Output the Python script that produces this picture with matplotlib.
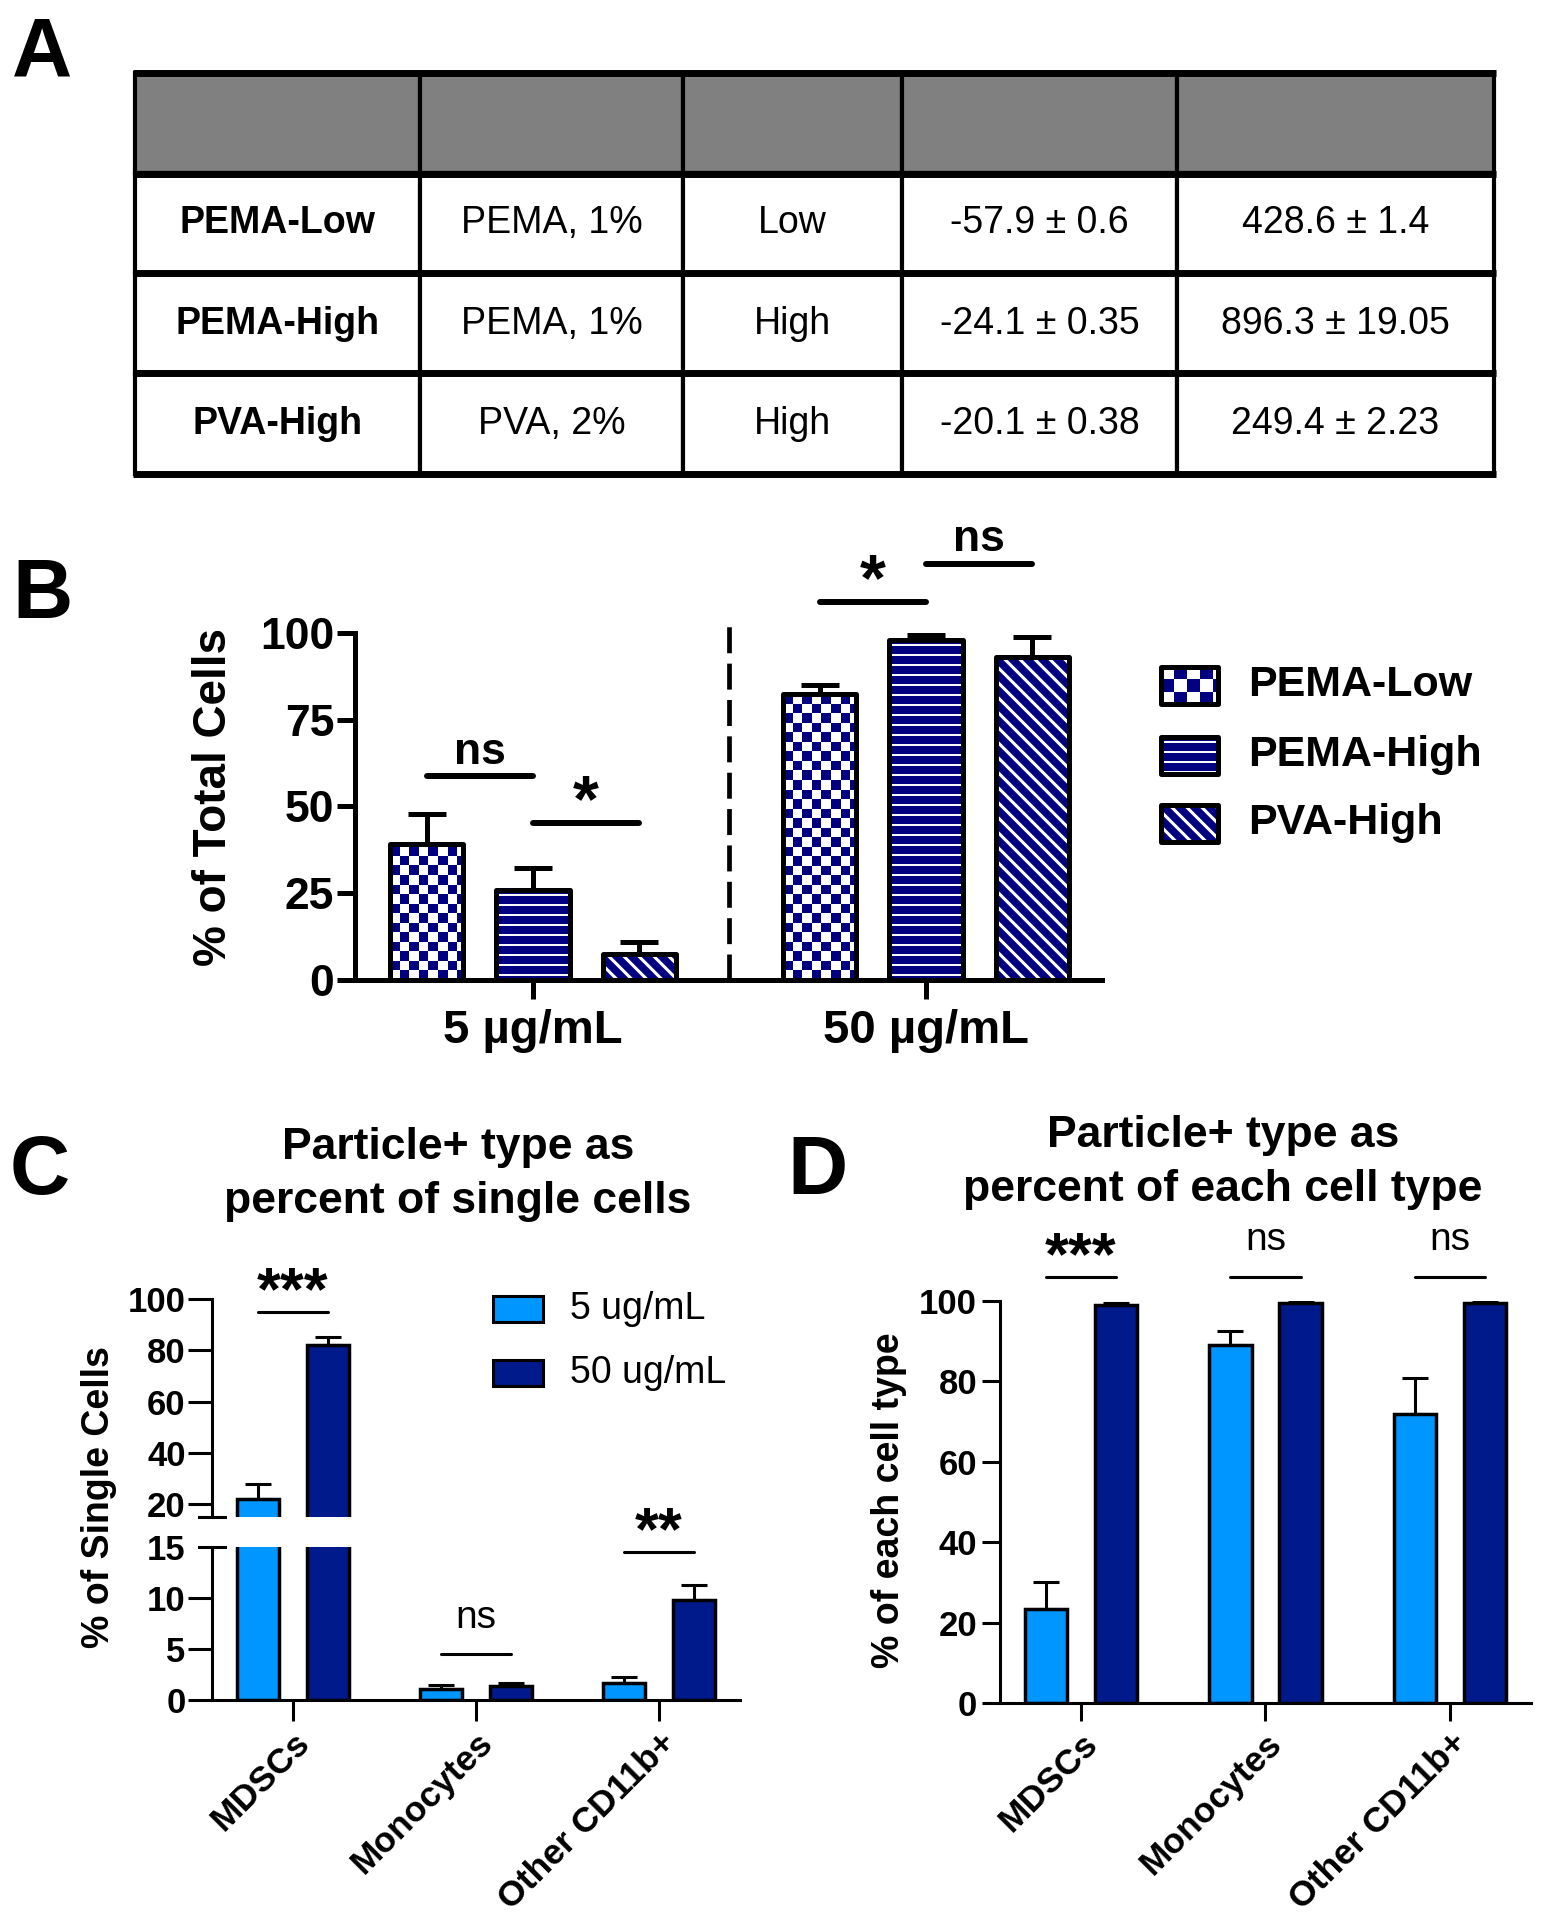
import numpy as np
import matplotlib
matplotlib.use("Agg")
import matplotlib.pyplot as plt
from matplotlib.colors import ListedColormap
from matplotlib.patches import Rectangle
from matplotlib.collections import LineCollection
from matplotlib.transforms import IdentityTransform

plt.rcParams['font.family'] = ['Liberation Sans', 'DejaVu Sans']

W, H = 1541, 1920

# ---------- panel A: particle table
row_names = ['PEMA-Low', 'PEMA-High', 'PVA-High']
polymer = ['PEMA, 1%', 'PEMA, 1%', 'PVA, 2%']
mol_weight = ['Low', 'High', 'High']
zeta = ['-57.9 ± 0.6', '-24.1 ± 0.35', '-20.1 ± 0.38']
size_nm = ['428.6 ± 1.4', '896.3 ± 19.05', '249.4 ± 2.23']

# ---------- panel B: % of total cells
doses = ['5 µg/mL', '50 µg/mL']
particles = ['PEMA-Low', 'PEMA-High', 'PVA-High']
pema_low = [39.3, 82.5]
pema_low_err = [8.5, 2.5]
pema_high = [26.0, 98.0]
pema_high_err = [6.4, 1.4]
pva_high = [7.4, 93.0]
pva_high_err = [3.6, 5.8]
# (dose index, bar i, bar j, line height, label)
sig_b = [(0, 0, 1, 58.7, 'ns'), (0, 1, 2, 45.3, '*'),
         (1, 0, 1, 109.0, '*'), (1, 1, 2, 120.0, 'ns')]

# ---------- panel C / D
cell_types = ['MDSCs', 'Monocytes', 'Other CD11b+']
conc_labels = ['5 ug/mL', '50 ug/mL']
single_5 = [22.0, 1.1, 1.7]
single_5_err = [6.0, 0.4, 0.6]
single_50 = [82.0, 1.4, 9.8]
single_50_err = [3.0, 0.3, 1.5]
sig_c = [(0, 95.0, '***'), (1, 4.5, 'ns'), (2, 14.5, '**')]

each_5 = [23.3, 89.0, 71.8]
each_5_err = [6.7, 3.6, 9.0]
each_50 = [99.0, 99.5, 99.4]
each_50_err = [0.6, 0.3, 0.4]
sig_d = [(0, 106.0, '***'), (1, 106.0, 'ns'), (2, 106.0, 'ns')]

NAVY = '#000080'
LIGHT = '#0096FF'
DARK = '#001A8C'


def box(l, t, r, b):
    return [l / W, 1 - b / H, (r - l) / W, (b - t) / H]


def ptext(x, y, s, **kw):
    fig.text(x / W, 1 - y / H, s, **kw)


def pix_box(ax, patch):
    x0, y0 = patch.get_x(), patch.get_y()
    w, h = patch.get_width(), patch.get_height()
    (a0, b0), (a1, b1) = ax.transData.transform([(x0, y0), (x0 + w, y0 + h)])
    return min(a0, a1), max(a0, a1), min(b0, b1), max(b0, b1)


def checker_fill(ax, patch, cell=9.5):
    x0, y0 = patch.get_x(), patch.get_y()
    w, h = patch.get_width(), patch.get_height()
    left, right, bot, top = pix_box(ax, patch)
    nx = (right - left) / cell
    ny = (top - bot) / cell
    grid = np.indices((int(np.ceil(ny)), int(np.ceil(nx)))).sum(axis=0) % 2
    dx, dy = w / nx, h / ny
    im = ax.imshow(grid, cmap=ListedColormap(['white', NAVY]), origin='lower',
                   extent=(x0, x0 + grid.shape[1] * dx, y0, y0 + grid.shape[0] * dy),
                   interpolation='nearest', aspect='auto', zorder=2)
    im.set_clip_path(patch)


def stripe_fill(ax, patch, kind):
    # white stripes over a navy face, drawn in pixel space and clipped to the bar
    left, right, bot, top = pix_box(ax, patch)
    segs = []
    if kind == 'diag':
        step, lw = 15.0, 2.2
        tall = top - bot
        for c in np.arange(left - tall - step, right + step, step):
            segs.append([(c, top), (c + tall, bot)])
    else:
        step, lw = 10.0, 1.4
        for yy in np.arange(top - 5, bot - step, -step):
            segs.append([(left - 5, yy), (right + 5, yy)])
    lc = LineCollection(segs, colors='white', linewidths=lw, transform=IdentityTransform(),
                        zorder=2.5)
    ax.add_collection(lc, autolim=False)
    lc.set_clip_path(patch)


def sig_line(ax, x1, x2, y, label, lw, size, weight, offset):
    ax.plot([x1, x2], [y, y], color='k', lw=lw, solid_capstyle='round', clip_on=False, zorder=4)
    ax.annotate(label, ((x1 + x2) / 2, y), xytext=(0, offset), textcoords='offset points',
                ha='center', va='baseline', fontsize=size, fontweight=weight,
                annotation_clip=False)


fig = plt.figure(figsize=(W / 100, H / 100), dpi=100)

ov = fig.add_axes([0, 0, 1, 1])
ov.set_xlim(0, W)
ov.set_ylim(H, 0)
ov.axis('off')
ov.set_zorder(10)

# ---------------- A
cell_text = [[''] * 5] + [[row_names[i], polymer[i], mol_weight[i], zeta[i], size_nm[i]]
                          for i in range(len(row_names))]
col_px = [285, 263, 219, 275, 317]
tab = ov.table(cellText=cell_text, colWidths=[c / sum(col_px) for c in col_px],
               cellLoc='center', bbox=[135 / W, 1 - 474 / H, 1359 / W, 401 / H])
tab.auto_set_font_size(False)
for (r, c), cell in tab.get_celld().items():
    cell.set_linewidth(3)
    cell.set_edgecolor('k')
    cell.get_text().set_fontsize(27)
    if r == 0:
        cell.set_facecolor('#808080')
    if c == 0:
        cell.get_text().set_fontweight('bold')
ov.hlines([73, 174, 273, 373, 474], 133, 1496, colors='k', lw=5, zorder=5)

# ---------------- B
axB = fig.add_axes(box(355, 633, 1102, 980))
gx = np.arange(len(doses))
offs = [-0.27, 0.0, 0.27]
bw = 0.186
axB.set_xlim(-0.453, 1.448)
axB.set_ylim(0, 100)

b_means = [pema_low, pema_high, pva_high]
b_errs = [pema_low_err, pema_high_err, pva_high_err]
fills = ['checker', 'horiz', 'diag']
for i in range(3):
    x = gx + offs[i]
    axB.errorbar(x, b_means[i], yerr=[np.zeros(len(x)), b_errs[i]], fmt='none', ecolor='k',
                 elinewidth=3.6, capsize=14, capthick=3.6, zorder=1)
    if fills[i] == 'checker':
        face = axB.bar(x, b_means[i], bw, facecolor='white', lw=0, zorder=1.5)
        for p in face:
            checker_fill(axB, p)
    else:
        face = axB.bar(x, b_means[i], bw, facecolor=NAVY, lw=0, zorder=1.5)
        for p in face:
            stripe_fill(axB, p, fills[i])
    outl = axB.bar(x, b_means[i], bw, fill=False, edgecolor='k', lw=3.6, zorder=3)
    for p in outl:
        p.set_joinstyle('round')
axB.set_xlim(-0.453, 1.448)
axB.set_ylim(0, 100)

axB.axvline(0.5, ymin=0, ymax=1.02, color='k', lw=3.4, linestyle=(0, (5.5, 2.2)), clip_on=False)
for g, i, j, y, lab in sig_b:
    if lab == '*':
        sig_line(axB, g + offs[i], g + offs[j], y, lab, 4.3, 48, 'bold', 1.5)
    else:
        sig_line(axB, g + offs[i], g + offs[j], y, lab, 4.3, 32, 'bold', 9)

for s in ['top', 'right']:
    axB.spines[s].set_visible(False)
for s in ['left', 'bottom']:
    axB.spines[s].set_linewidth(3.6)
axB.set_yticks([0, 25, 50, 75, 100])
axB.set_xticks(gx)
axB.set_xticklabels(doses, fontsize=34, fontweight='bold')
axB.tick_params(axis='y', length=13, width=3.6, pad=2, labelsize=32)
axB.tick_params(axis='x', length=14, width=3.6, pad=7)
for lbl in axB.get_yticklabels():
    lbl.set_fontweight('bold')
ptext(214, 797, '% of Total Cells', rotation=90, ha='center', va='center',
      fontsize=33, fontweight='bold')

# legend B
leg_y = [685, 755, 823]
for i, name in enumerate(particles):
    if fills[i] == 'checker':
        f = Rectangle((1161, leg_y[i] - 18.5), 57, 37, facecolor='white', lw=0, zorder=1.5)
        ov.add_patch(f)
        checker_fill(ov, f, cell=13)
    else:
        f = Rectangle((1161, leg_y[i] - 18.5), 57, 37, facecolor=NAVY, lw=0, zorder=1.5)
        ov.add_patch(f)
        stripe_fill(ov, f, fills[i])
    r = Rectangle((1161, leg_y[i] - 18.5), 57, 37, fill=False, edgecolor='k', lw=3.6, zorder=4)
    r.set_joinstyle('round')
    ov.add_patch(r)
    ptext(1248, leg_y[i], name, ha='left', va='center', fontsize=31, fontweight='bold')
ov.set_xlim(0, W)
ov.set_ylim(H, 0)

# ---------------- C (broken axis)
cx = np.arange(len(cell_types))
off = 0.19
cbw = 0.23
axCt = fig.add_axes(box(212, 1299, 740, 1517))
axCb = fig.add_axes(box(212, 1547, 740, 1700))
for ax, lim in ((axCt, (15, 100)), (axCb, (0, 15))):
    ax.bar(cx - off, single_5, cbw, color=LIGHT, edgecolor='k', lw=2.5, zorder=2)
    ax.bar(cx + off, single_50, cbw, color=DARK, edgecolor='k', lw=2.5, zorder=2)
    ax.errorbar(cx - off, single_5, yerr=[np.zeros(3), single_5_err], fmt='none', ecolor='k',
                elinewidth=2.2, capsize=9.4, capthick=2.2, zorder=1)
    ax.errorbar(cx + off, single_50, yerr=[np.zeros(3), single_50_err], fmt='none', ecolor='k',
                elinewidth=2.2, capsize=9.4, capthick=2.2, zorder=1)
    ax.set_xlim(-0.443, 2.443)
    ax.set_ylim(*lim)
    ax.patch.set_visible(False)
    ax.spines['top'].set_visible(False)
    ax.spines['right'].set_visible(False)
    ax.spines['left'].set_linewidth(2.2)
    ax.spines['bottom'].set_linewidth(2.2)
    ax.tick_params(axis='y', length=17, width=2.2, pad=2, labelsize=25)
axCt.spines['bottom'].set_visible(False)
axCt.set_xticks([])
axCt.set_yticks([20, 40, 60, 80, 100])
axCb.set_yticks([0, 5, 10, 15])
axCb.yaxis.get_major_ticks()[-1].tick1line.set_visible(False)
axCb.set_xticks(cx)
axCb.set_xticklabels(cell_types, rotation=45, ha='right', va='top', rotation_mode='anchor',
                     fontsize=25.5, fontweight='bold')
axCb.tick_params(axis='x', length=15, width=2.2, pad=4)
for ax in (axCt, axCb):
    for lbl in ax.get_yticklabels():
        lbl.set_fontweight('bold')
d = 13 / 528
axCt.plot([-d, d], [0, 0], transform=axCt.transAxes, color='k', lw=2.2, clip_on=False)
axCb.plot([-d, d], [1, 1], transform=axCb.transAxes, color='k', lw=2.2, clip_on=False)

for g, y, lab in sig_c:
    ax = axCt if y > 15 else axCb
    if lab == 'ns':
        sig_line(ax, g - off, g + off, y, lab, 2.2, 28, 'normal', 19)
    else:
        sig_line(ax, g - off, g + off, y, lab, 2.2, 44, 'bold', 2)

ptext(458, 1147, 'Particle+ type as', ha='center', va='center', fontsize=32, fontweight='bold')
ptext(458, 1202, 'percent of single cells', ha='center', va='center', fontsize=32,
      fontweight='bold')
ptext(99, 1497, '% of Single Cells', rotation=90, ha='center', va='center', fontsize=27,
      fontweight='bold')

# legend C
for i, (lab, col) in enumerate(zip(conc_labels, [LIGHT, DARK])):
    yc = [1309, 1373][i]
    ov.add_patch(Rectangle((493, yc - 13), 50, 26, facecolor=col, edgecolor='k', lw=2.2))
    ptext(570, yc, lab, ha='left', va='center', fontsize=27)

# ---------------- D
axD = fig.add_axes(box(1000, 1301, 1531, 1703))
axD.bar(cx - off, each_5, cbw, color=LIGHT, edgecolor='k', lw=2.5, zorder=2)
axD.bar(cx + off, each_50, cbw, color=DARK, edgecolor='k', lw=2.5, zorder=2)
axD.errorbar(cx - off, each_5, yerr=[np.zeros(3), each_5_err], fmt='none', ecolor='k',
             elinewidth=2.2, capsize=9.4, capthick=2.2, zorder=1)
axD.errorbar(cx + off, each_50, yerr=[np.zeros(3), each_50_err], fmt='none', ecolor='k',
             elinewidth=2.2, capsize=9.4, capthick=2.2, zorder=1)
axD.set_xlim(-0.439, 2.439)
axD.set_ylim(0, 100)
axD.spines['top'].set_visible(False)
axD.spines['right'].set_visible(False)
axD.spines['left'].set_linewidth(2.2)
axD.spines['bottom'].set_linewidth(2.2)
axD.set_yticks([0, 20, 40, 60, 80, 100])
axD.tick_params(axis='y', length=13, width=2.2, pad=3.5, labelsize=25)
for lbl in axD.get_yticklabels():
    lbl.set_fontweight('bold')
axD.set_xticks(cx)
axD.set_xticklabels(cell_types, rotation=45, ha='right', va='top', rotation_mode='anchor',
                    fontsize=25.5, fontweight='bold')
axD.tick_params(axis='x', length=13, width=2.2, pad=4)
for g, y, lab in sig_d:
    if lab == 'ns':
        sig_line(axD, g - off, g + off, y, lab, 2.2, 28, 'normal', 19)
    else:
        sig_line(axD, g - off, g + off, y, lab, 2.2, 44, 'bold', 2)

ptext(1223, 1136, 'Particle+ type as', ha='center', va='center', fontsize=32, fontweight='bold')
ptext(1223, 1190, 'percent of each cell type', ha='center', va='center', fontsize=32,
      fontweight='bold')
ptext(889, 1500, '% of each cell type', rotation=90, ha='center', va='center', fontsize=27,
      fontweight='bold')

# panel letters
for x, y, s in [(12, 15, 'A'), (12, 557, 'B'), (10, 1133, 'C'), (787, 1133, 'D')]:
    ptext(x, y, s, ha='left', va='top', fontsize=60, fontweight='bold')

fig.savefig('out.png', dpi=100)
